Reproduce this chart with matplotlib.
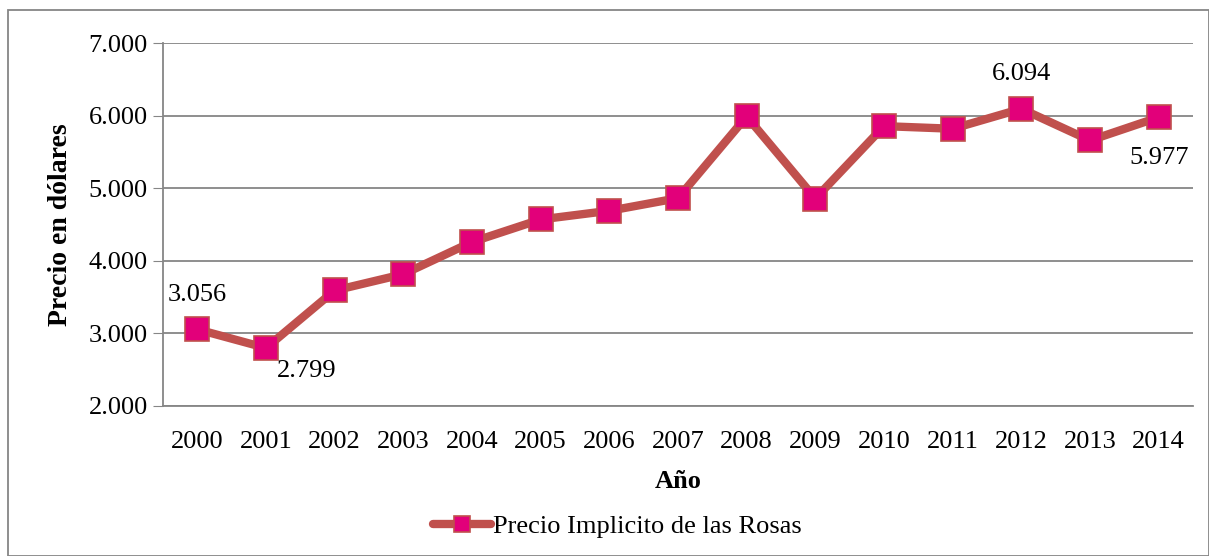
import matplotlib.pyplot as plt
from matplotlib.patches import Rectangle
from matplotlib.ticker import FuncFormatter

plt.rcParams['font.family'] = ['Liberation Serif', 'DejaVu Serif']

years = ["2000", "2001", "2002", "2003", "2004", "2005", "2006", "2007",
         "2008", "2009", "2010", "2011", "2012", "2013", "2014"]
precio = [3056, 2799, 3591, 3816, 4259, 4570, 4689, 4863,
          5988, 4858, 5855, 5819, 6094, 5658, 5977]
serie = "Precio Implicito de las Rosas"

fig = plt.figure(figsize=(12.09, 5.56), dpi=100)
ax = fig.add_axes([163 / 1209, 1 - 406 / 556, 1030 / 1209, 363 / 556])

x = list(range(len(years)))
ax.plot(x, precio, color="#C0504D", linewidth=6, marker="s", markersize=17,
        markerfacecolor="#E2007A", markeredgecolor="#C0504D", markeredgewidth=1.2,
        label=serie, zorder=3)

ax.set_xlim(-0.5, len(years) - 0.5)
ax.set_ylim(2000, 7000)
ax.set_yticks(range(2000, 7001, 1000))
ax.yaxis.set_major_formatter(FuncFormatter(lambda v, p: f"{v/1000:.3f}"))
ax.set_xticks(x)
ax.set_xticklabels(years)
ax.tick_params(axis="y", length=7, color="#868686", labelsize=19, pad=4)
ax.tick_params(axis="x", length=0, labelsize=19, pad=18)
ax.grid(axis="y", color="#868686", linewidth=1.3)
ax.set_axisbelow(True)
for s in ["top", "right"]:
    ax.spines[s].set_visible(False)
ax.spines["left"].set_color("#868686")
ax.spines["bottom"].set_color("#868686")
ax.spines["left"].set_linewidth(1.3)
ax.spines["bottom"].set_linewidth(1.3)

ax.set_ylabel("Precio en dólares", fontsize=20, fontweight="bold", labelpad=11)
ax.set_xlabel("Año", fontsize=19, fontweight="bold", labelpad=12)

# etiquetas de datos
ax.annotate(f"{precio[0]/1000:.3f}", (0, precio[0]), xytext=(0, 17), textcoords="offset points",
            ha="center", va="bottom", fontsize=19)
ax.annotate(f"{precio[1]/1000:.3f}", (1, precio[1]), xytext=(8, -9), textcoords="offset points",
            ha="left", va="top", fontsize=19)
ax.annotate(f"{precio[12]/1000:.3f}", (12, precio[12]), xytext=(0, 17), textcoords="offset points",
            ha="center", va="bottom", fontsize=19)
ax.annotate(f"{precio[14]/1000:.3f}", (14, precio[14]), xytext=(0, -29), textcoords="offset points",
            ha="center", va="center", fontsize=19)

leg = fig.legend(loc="center", bbox_to_anchor=(617.5 / 1209, 1 - 526 / 556), frameon=False,
                 fontsize=19, handlelength=2.2, handletextpad=0.1)
h = leg.legend_handles[0]
h.set_markersize(12)
h.set_solid_capstyle("round")

fig.patches.append(Rectangle((8 / 1209, 0), 1 - 8 / 1209, 1 - 10 / 556, transform=fig.transFigure,
                             fill=False, edgecolor="#868686", linewidth=1.3))

fig.savefig("out.png", dpi=100)
